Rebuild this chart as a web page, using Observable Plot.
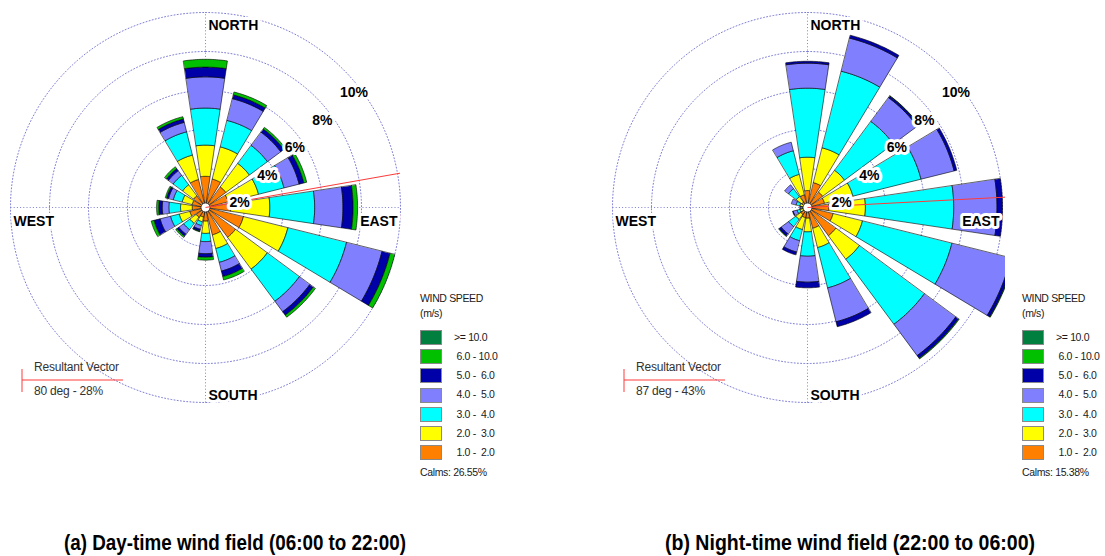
<!DOCTYPE html>
<html>
<head>
<meta charset="utf-8">
<script src="https://cdn.jsdelivr.net/npm/d3@7"></script>
<script src="https://cdn.jsdelivr.net/npm/@observablehq/plot@0.6"></script>
<style>
  body { margin: 0; background: #fff; font-family: "Liberation Sans", Arial, sans-serif; }
  #root { position: relative; width: 1105px; height: 556px; overflow: hidden; background: #fff; }
  .abs { position: absolute; white-space: pre; line-height: 1; }
  .plot { position: absolute; top: 0; }
  .leg { font-size: 10.5px; color: #1a1a1a; letter-spacing: -0.35px; }
  .box { position: absolute; width: 20px; height: 13px; border: 1px solid #8a8a8a; }
  .title { font-weight: bold; font-size: 22px; color: #000; transform-origin: 0 50%; }
  .rv { font-size: 12px; color: #333; letter-spacing: -0.2px; }
</style>
</head>
<body>
<div id="root"></div>
<script>
// ---------------- DATA ----------------
const directions = ["N","NNE","NE","ENE","E","ESE","SE","SSE","S","SSW","SW","WSW","W","WNW","NW","NNW"];
const speedClasses = ["1.0 - 2.0","2.0 - 3.0","3.0 - 4.0","4.0 - 5.0","5.0 - 6.0","6.0 - 10.0",">= 10.0"];
const classColors = ["#ff8000","#ffff00","#00ffff","#8080ff","#0000a8","#00c000","#007f3f"];
const legendLabels = [">= 10.0"," 6.0 - 10.0"," 5.0 -  6.0"," 4.0 -  5.0"," 3.0 -  4.0"," 2.0 -  3.0"," 1.0 -  2.0"];
const ringValues = [2, 4, 6, 8, 10];

// Day-time (06:00 to 22:00): frequency (%) per direction for each speed class
const day_1_2  = [1.60,1.50,1.30,1.20,1.30,2.00,1.90,1.45,0.70,0.50,0.60,0.83,0.68,0.70,0.75,1.48];
const day_2_3  = [1.60,1.70,1.50,1.60,2.00,2.35,2.03,0.72,0.63,0.25,0.40,0.56,0.60,0.53,0.70,1.29];
const day_3_4  = [1.90,1.40,1.15,1.35,2.30,3.10,2.05,0.73,0.42,0.20,0.40,0.46,0.60,0.47,0.60,1.23];
const day_4_5  = [1.60,1.15,0.85,0.80,1.45,1.88,0.67,0.46,0.62,0.20,0.30,0.55,0.34,0.25,0.30,0.50];
const day_5_6  = [0.50,0.20,0.20,0.25,0.52,0.42,0.22,0.29,0.18,0.10,0.12,0.32,0.18,0.10,0.13,0.18];
const day_6_10 = [0.40,0.15,0.10,0.15,0.23,0.25,0.13,0.18,0.15,0.03,0.08,0.15,0.11,0.07,0.12,0.12];
const day_10up = [0,0,0,0,0,0,0,0,0,0,0,0,0,0,0,0];

// Night-time (22:00 to 06:00)
const night_1_2  = [0.87,1.31,0.97,0.90,1.10,1.35,1.80,1.10,0.55,0.53,0.43,0.20,0.15,0.20,0.35,0.67];
const night_2_3  = [1.71,1.84,1.39,1.50,1.87,1.55,1.50,1.02,0.70,0.63,0.32,0.20,0.12,0.20,0.35,1.08];
const night_3_4  = [3.54,4.05,3.12,3.60,4.53,4.73,4.15,2.13,1.25,0.59,0.46,0.15,0.08,0.20,0.50,1.25];
const night_4_5  = [1.28,1.75,1.52,1.75,2.22,3.12,2.00,1.79,1.33,0.60,0.47,0.21,0.05,0.25,0.25,0.45];
const night_5_6  = [0.10,0.15,0.10,0.14,0.28,0.15,0.17,0.26,0.29,0.15,0.13,0.03,0,0,0,0];
const night_6_10 = [0,0,0.02,0,0,0.03,0.04,0,0,0,0.03,0,0,0,0,0];
const night_10up = [0,0,0,0,0,0,0,0,0,0,0,0,0,0,0,0];

const resultantDeg = [80, 87];
const resultantPct = [28, 43];
const calms = ["26.55%", "15.38%"];
const captions = ["(a) Day-time wind field (06:00 to 22:00)", "(b) Night-time wind field (22:00 to 06:00)"];
const compassLabels = ["NORTH", "EAST", "SOUTH", "WEST"];

// ---------------- GEOMETRY HELPERS ----------------
const SECTOR = 360 / directions.length;
const HALF = 8.5;       // half angular width of each petal (deg)
const PX_PER_PCT = 19.5;
const RMAX = d3.max(ringValues);
const rad = d => d * Math.PI / 180;

function petals(classArrays) {
  const pts = [];
  directions.forEach((d, i) => {
    const b = i * SECTOR;
    let r0 = 0;
    classArrays.forEach((arr, k) => {
      const v = arr[i];
      if (!(v > 0)) return;
      const r1 = r0 + v, id = d + "-" + k, cls = speedClasses[k], N = 20;
      for (let j = 0; j <= N; j++) {
        const a = rad(b - HALF + 2 * HALF * j / N);
        pts.push({id, cls, x: r1 * Math.sin(a), y: r1 * Math.cos(a)});
      }
      if (r0 > 0) {
        for (let j = N; j >= 0; j--) {
          const a = rad(b - HALF + 2 * HALF * j / N);
          pts.push({id, cls, x: r0 * Math.sin(a), y: r0 * Math.cos(a)});
        }
      } else pts.push({id, cls, x: 0, y: 0});
      r0 = r1;
    });
  });
  return pts;
}

function ringPts() {
  const pts = [];
  ringValues.forEach(r => {
    for (let j = 0; j <= 360; j += 1) pts.push({ring: r, x: r * Math.sin(rad(j)), y: r * Math.cos(rad(j))});
  });
  return pts;
}

function rose(classArrays, resDeg, width, xmax) {
  const clip = xmax < 10.5;
  const L = RMAX + 0.2;
  const lbl = {fontSize: 14, fontWeight: "bold", fill: "black", stroke: "white", strokeWidth: 6, paintOrder: "stroke", strokeLinejoin: "round"};
  const compass = compassLabels.map((t, i) => ({t, x: RMAX * Math.sin(rad(i * 90)), y: RMAX * Math.cos(rad(i * 90))}));
  const grid = {stroke: "#6f6fd0", strokeWidth: 0.9, strokeDasharray: "1,2.2"};
  return Plot.plot({
    width, height: 420,
    marginLeft: 10, marginTop: 12, marginBottom: 18,
    marginRight: width - 10 - PX_PER_PCT * (xmax + 10),
    x: {domain: [-10, xmax], axis: null},
    y: {domain: [-10, 10], axis: null},
    color: {domain: speedClasses, range: classColors},
    style: {background: "transparent", overflow: "visible", fontFamily: "'Liberation Sans', Arial, sans-serif"},
    marks: [
      Plot.line(ringPts(), {x: "x", y: "y", z: "ring", ...grid}),
      Plot.link([{x1: 0, y1: -RMAX, x2: 0, y2: RMAX}, {x1: -RMAX, y1: 0, x2: RMAX, y2: 0}],
        {x1: "x1", y1: "y1", x2: "x2", y2: "y2", ...grid}),
      Plot.line(petals(classArrays), {x: "x", y: "y", z: "id", fill: "cls", stroke: "#000", strokeWidth: 0.6, curve: "linear-closed", clip}),
      Plot.dot([{x: 0, y: 0}], {x: "x", y: "y", r: 4.5, fill: "white", stroke: "#222", strokeWidth: 0.8}),
      Plot.link([resDeg], {x1: 0, y1: 0, x2: d => L * Math.sin(rad(d)), y2: d => L * Math.cos(rad(d)), stroke: "#ff3a3a", strokeWidth: 1, clip}),
      Plot.text(ringValues, {x: v => v * Math.SQRT1_2, y: v => v * Math.SQRT1_2, text: v => v + "%", dx: -3.5, dy: 27.5, textAnchor: "start", lineAnchor: "bottom", ...lbl}),
      Plot.text(compass.filter(c => c.t === "NORTH"), {x: "x", y: "y", text: "t", dx: 3, dy: 13, textAnchor: "start", lineAnchor: "middle", ...lbl}),
      Plot.text(compass.filter(c => c.t === "SOUTH"), {x: "x", y: "y", text: "t", dx: 3, dy: -7, textAnchor: "start", lineAnchor: "middle", ...lbl}),
      Plot.text(compass.filter(c => c.t === "EAST"), {x: "x", y: "y", text: "t", dx: -3, dy: 14, textAnchor: "end", lineAnchor: "middle", ...lbl}),
      Plot.text(compass.filter(c => c.t === "WEST"), {x: "x", y: "y", text: "t", dx: 3, dy: 14, textAnchor: "start", lineAnchor: "middle", ...lbl})
    ]
  });
}

// ---------------- LAYOUT ----------------
const root = document.getElementById("root");
const panels = [
  {left: 0, width: 552, xmax: 10, arrays: [day_1_2, day_2_3, day_3_4, day_4_5, day_5_6, day_6_10, day_10up]},
  {left: 602, width: 503, xmax: 10.15, arrays: [night_1_2, night_2_3, night_3_4, night_4_5, night_5_6, night_6_10, night_10up]}
];
const titleWidths = [342, 370];

function addText(txt, cls, x, yCenter, size) {
  const el = document.createElement("div");
  el.className = "abs " + cls;
  el.textContent = txt;
  el.style.left = x + "px";
  el.style.top = (yCenter - size / 2) + "px";
  root.appendChild(el);
  return el;
}

panels.forEach((p, pi) => {
  const svg = rose(p.arrays, resultantDeg[pi], p.width, p.xmax);
  const wrap = document.createElement("div");
  wrap.className = "plot";
  wrap.style.left = p.left + "px";
  wrap.appendChild(svg);
  root.appendChild(wrap);

  const o = p.left;
  // legend
  addText("WIND SPEED", "leg", o + 420, 298, 10.5);
  addText("(m/s)", "leg", o + 420, 313, 10.5);
  legendLabels.forEach((t, i) => {
    const yc = 337 + i * 19.2;
    const b = document.createElement("div");
    b.className = "box";
    b.style.left = (o + 420) + "px";
    b.style.top = (yc - 7) + "px";
    b.style.background = classColors[classColors.length - 1 - i];
    root.appendChild(b);
    addText(t, "leg", o + 454, yc, 10.5);
  });
  addText("Calms: " + calms[pi], "leg", o + 420, 472, 10.5);

  // resultant vector key
  const rv = document.createElementNS("http://www.w3.org/2000/svg", "svg");
  rv.setAttribute("width", 110); rv.setAttribute("height", 30);
  rv.style.position = "absolute"; rv.style.left = (o + 21) + "px"; rv.style.top = "366px";
  rv.innerHTML = '<line x1="1" y1="3" x2="1" y2="26" stroke="#ff3a3a" stroke-width="1"/><line x1="1" y1="14" x2="102" y2="14" stroke="#ff3a3a" stroke-width="1"/>';
  root.appendChild(rv);
  addText("Resultant Vector", "rv", o + 34, 367, 12);
  addText(resultantDeg[pi] + " deg - " + resultantPct[pi] + "%", "rv", o + 34, 391, 12);

  // caption
  const t = addText(captions[pi], "title", 0, 543, 22);
  const w = t.getBoundingClientRect().width;
  const s = titleWidths[pi] / w;
  const cx = pi === 0 ? 235 : 850;
  t.style.left = (cx - titleWidths[pi] / 2) + "px";
  t.style.transform = "scaleX(" + s + ")";
});
</script>
</body>
</html>
